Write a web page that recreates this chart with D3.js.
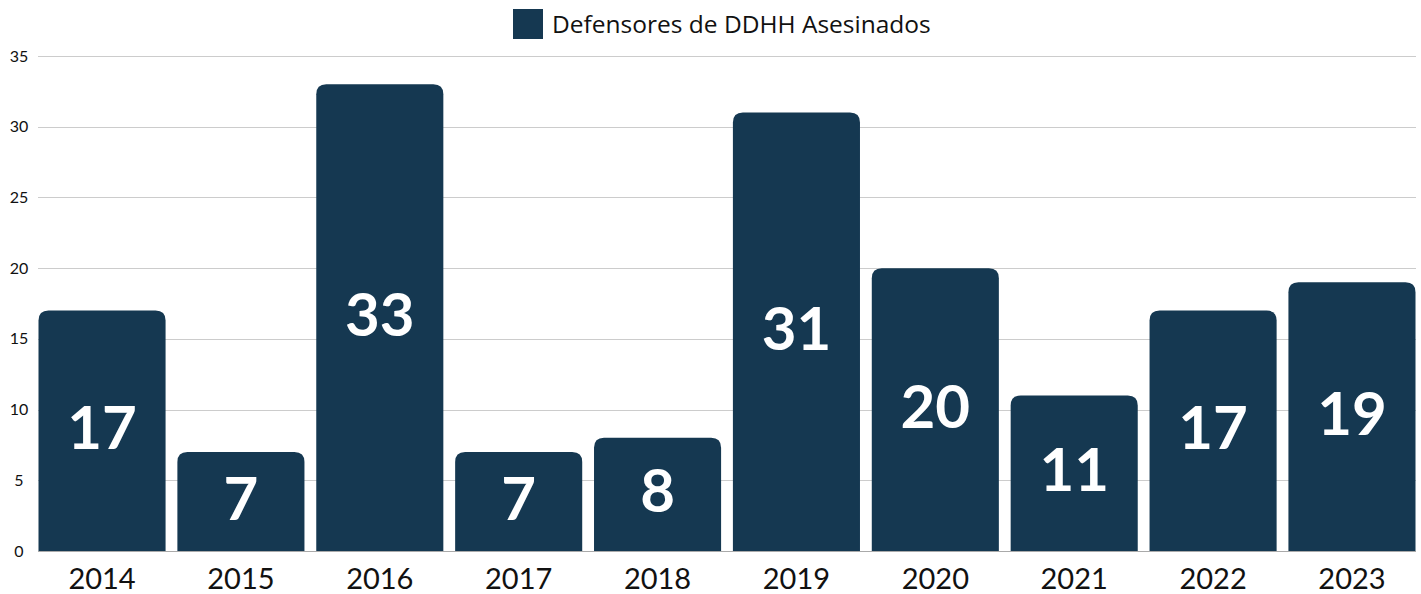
<!DOCTYPE html>
<html>
<head>
<meta charset="utf-8">
<script src="https://cdn.jsdelivr.net/npm/d3@7"></script>
<style>
  body { margin: 0; background: #fff; }
  svg { display: block; }
</style>
</head>
<body>
<svg id="chart"></svg>
<script>
// data
const years = ["2014", "2015", "2016", "2017", "2018", "2019", "2020", "2021", "2022", "2023"];
const asesinados = [17, 7, 33, 7, 8, 31, 20, 11, 17, 19];
const yTicks = [0, 5, 10, 15, 20, 25, 30, 35];
const seriesName = "Defensores de DDHH Asesinados";

const width = 1421, height = 594;
const margin = {top: 56, right: 5, bottom: 43, left: 38};
const barColor = "#153851";

const svg = d3.select("#chart")
    .attr("width", width)
    .attr("height", height);

const x = d3.scaleBand()
    .domain(years)
    .range([margin.left + 0.5, width - margin.right - 0.5])
    .paddingInner(0.085)
    .paddingOuter(0);

const y = d3.scaleLinear()
    .domain([0, 35])
    .range([height - margin.bottom, margin.top]);

// gridlines
svg.append("g")
  .selectAll("line")
  .data(yTicks)
  .join("line")
    .attr("x1", margin.left)
    .attr("x2", width - margin.right)
    .attr("y1", d => Math.round(y(d)) + 0.5)
    .attr("y2", d => Math.round(y(d)) + 0.5)
    .attr("stroke", d => d === 0 ? "#aaa" : "#ccc")
    .attr("stroke-width", 1);

// y tick labels
svg.append("g")
  .selectAll("text")
  .data(yTicks)
  .join("text")
    .attr("x", 19)
    .attr("y", d => y(d))
    .attr("dy", "0.35em")
    .attr("text-anchor", "middle")
    .attr("font-family", "Lato, 'Noto Sans', sans-serif")
    .attr("font-size", "16px")
    .attr("fill", "#111")
    .text(d => d);

// bars with rounded top corners
const r = 10;
function barPath(d, i) {
  const x0 = x(years[i]), w = x.bandwidth();
  const y0 = y(d), y1 = y(0);
  return `M${x0},${y1}V${y0 + r}Q${x0},${y0} ${x0 + r},${y0}H${x0 + w - r}Q${x0 + w},${y0} ${x0 + w},${y0 + r}V${y1}Z`;
}

svg.append("g")
  .selectAll("path")
  .data(asesinados)
  .join("path")
    .attr("d", barPath)
    .attr("fill", barColor);

// value labels
svg.append("g")
  .selectAll("text")
  .data(asesinados)
  .join("text")
    .attr("x", (d, i) => x(years[i]) + x.bandwidth() / 2)
    .attr("y", d => (y(d) + y(0)) / 2)
    .attr("dy", "0.3em")
    .attr("text-anchor", "middle")
    .attr("font-family", "Lato, sans-serif")
    .attr("font-weight", "bold")
    .attr("font-size", "60px")
    .attr("fill", "#fff")
    .text(d => d);

// x axis labels
svg.append("g")
  .selectAll("text")
  .data(years)
  .join("text")
    .attr("x", d => x(d) + x.bandwidth() / 2)
    .attr("y", 589)
    .attr("text-anchor", "middle")
    .attr("font-family", "Lato, sans-serif")
    .attr("font-size", "29px")
    .attr("fill", "#111")
    .text(d => d);

// legend
const legend = svg.append("g");
legend.append("rect")
    .attr("x", 513)
    .attr("y", 9)
    .attr("width", 30)
    .attr("height", 30)
    .attr("fill", barColor);
legend.append("text")
    .attr("x", 552)
    .attr("y", 24)
    .attr("dy", "0.35em")
    .attr("font-family", "'Open Sans', 'Noto Sans', sans-serif")
    .attr("font-size", "24.5px")
    .attr("fill", "#111")
    .text(seriesName);
</script>
</body>
</html>
